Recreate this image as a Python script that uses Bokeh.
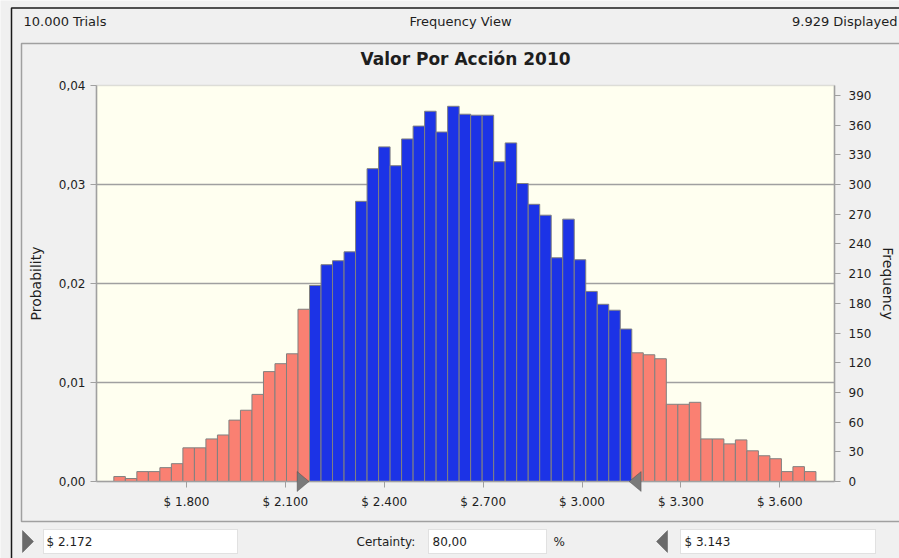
import math
import numpy as np
from bokeh.plotting import figure
from bokeh.models import (Range1d, LinearAxis, FixedTicker, CustomJSTickFormatter,
                          Label, PolyAnnotation, BoxAnnotation, ColumnDataSource)
from bokeh.embed import file_html
from bokeh.resources import INLINE

# ---------------- data ----------------
counts = [5, 3, 10, 10, 14, 18, 34, 34, 43, 47, 62, 72, 88, 111, 119, 129, 174,
          198, 219, 223, 232, 283, 316, 338, 319, 346, 359, 374, 353, 379, 371, 370,
          370, 323, 342, 301, 280, 269, 226, 265, 224, 192, 179, 173, 154,
          130, 128, 124, 78, 78, 80, 43, 43, 38, 42, 31, 26, 23, 10, 15, 10]
bin_lo, bin_hi = 1579.6, 3709.7
cert_lo, cert_hi = 2172, 3143
certainty_text = "80,00"
x_lim = (1527, 3766)
freq_lim = (0, 400)
x_ticks = [1800, 2100, 2400, 2700, 3000, 3300, 3600]
prob_ticks = [0.00, 0.01, 0.02, 0.03, 0.04]
freq_ticks = [0, 30, 60, 90, 120, 150, 180, 210, 240, 270, 300, 330, 360, 390]
title_text = "Valor Por Acción 2010"
trials_text = "10.000 Trials"
view_text = "Frequency View"
displayed_text = "9.929 Displayed"
left_axis_title = "Probability"
right_axis_title = "Frequency"

# ---------------- layout (pixels) ----------------
W, H = 899, 558
PX0, PX1, PY1, PY0 = 96, 834, 85, 481      # plot-area box on the canvas
BLUE = "#1C33E6"
SALMON = "#FA8072"
FONT = "DejaVu Sans"
TXT = "#1E1E1E"

sx = (PX1 - PX0) / (x_lim[1] - x_lim[0])
sy = (PY0 - PY1) / (freq_lim[1] - freq_lim[0])
x_start = x_lim[0] - PX0 / sx
x_end = x_lim[0] + (W - PX0) / sx
y_start = freq_lim[0] - (H - PY0) / sy
y_end = freq_lim[0] + PY0 / sy
pf = prob_ticks[-1] / freq_lim[1]


def X(px):
    return x_start + px / sx


def Y(py):
    return freq_lim[0] + (PY0 - py) / sy


def money(v):
    return "$ " + f"{int(v):,}".replace(",", ".")


edges = np.linspace(bin_lo, bin_hi, len(counts) + 1)
centers = (edges[:-1] + edges[1:]) / 2
colors = [BLUE if cert_lo <= c <= cert_hi else SALMON for c in centers]
src = ColumnDataSource(dict(left=edges[:-1], right=edges[1:], top=counts,
                            bottom=[0] * len(counts), color=colors))

p = figure(width=W, height=H, x_range=Range1d(x_start, x_end), y_range=Range1d(y_start, y_end),
           output_backend="svg", toolbar_location=None, title=None,
           x_axis_location=None, y_axis_location=None, min_border=0,
           background_fill_color="#F0F0F0", border_fill_color="#F0F0F0",
           outline_line_color=None)
p.grid.visible = False
p.extra_y_ranges = {"prob": Range1d(y_start * pf, y_end * pf)}

# window frame lines
p.line(x=[X(11), X(11), X(960)], y=[Y(600), Y(7.5), Y(7.5)], line_color="#1A1A1A", line_width=1.5)
p.line(x=[X(960), X(21), X(21), X(960)], y=[Y(43), Y(43), Y(521), Y(521)],
       line_color="#A0A0A0", line_width=1.5)

# plot area
p.add_layout(BoxAnnotation(left=x_lim[0], right=x_lim[1], bottom=freq_lim[0], top=freq_lim[1],
                           fill_color="#FFFFF0", fill_alpha=1, line_color="#A0A0A0",
                           line_width=1.5, level="underlay"))
grid_y = prob_ticks[1:-1]
p.segment(x0=[x_lim[0]] * len(grid_y), x1=[x_lim[1]] * len(grid_y), y0=grid_y, y1=grid_y,
          y_range_name="prob", line_color="#A0A0A0", line_width=1.5)

p.quad(left="left", right="right", top="top", bottom="bottom", source=src,
       fill_color="color", line_color="#808080", line_width=1)

yl = LinearAxis(y_range_name="prob", ticker=FixedTicker(ticks=prob_ticks),
                formatter=CustomJSTickFormatter(code="return tick.toFixed(2).replace('.', ',');"),
                axis_label=left_axis_title, fixed_location=x_lim[0],
                bounds=(prob_ticks[0], prob_ticks[-1]))
yr = LinearAxis(ticker=FixedTicker(ticks=freq_ticks), fixed_location=x_lim[1], bounds=freq_lim)
xb = LinearAxis(ticker=FixedTicker(ticks=x_ticks), fixed_location=freq_lim[0], bounds=x_lim,
                formatter=CustomJSTickFormatter(code="""
                    const s = Math.round(tick).toString();
                    return '$ ' + s.slice(0, s.length - 3) + '.' + s.slice(s.length - 3);"""))
for ax in (yl, yr, xb):
    ax.major_tick_out = 6
    ax.major_tick_in = 0
    ax.minor_tick_out = 0
    ax.minor_tick_in = 0
    ax.axis_line_color = "#A0A0A0"
    ax.axis_line_width = 1.5
    ax.major_tick_line_color = "#A0A0A0"
    ax.major_label_text_font = FONT
    ax.major_label_text_font_size = "12px"
    ax.major_label_text_color = TXT
    ax.axis_label_text_font = FONT
    ax.axis_label_text_font_size = "14px"
    ax.axis_label_text_font_style = "normal"
    ax.axis_label_text_color = TXT
yl.major_label_standoff = 5
yl.axis_label_standoff = 12
yr.major_label_standoff = 8
xb.major_label_standoff = 7
p.add_layout(yl, "left")
p.add_layout(yr, "right")
p.add_layout(xb, "below")

# certainty grabbers on the plot
tw = 12 / sx
th = 10 / sy
for tip, base in ((cert_lo, cert_lo - tw), (cert_hi, cert_hi + tw)):
    p.add_layout(PolyAnnotation(xs=[base, tip, base], ys=[th, 0, -th],
                                fill_color="#7A7A7A", fill_alpha=1, line_color="#2A2A2A",
                                line_width=1))


def label(px, py, text, size="13px", align="left", style="normal", angle=0.0):
    p.add_layout(Label(x=X(px), y=Y(py), text=text, text_font=FONT, text_font_size=size,
                       text_align=align, text_baseline="middle", text_font_style=style,
                       text_color=TXT, angle=angle))


def box(x0, x1):
    p.add_layout(BoxAnnotation(left=X(x0), right=X(x1), top=Y(529), bottom=Y(553),
                               fill_color="white", fill_alpha=1, line_color="#ABABAB",
                               line_width=1))


def grabber(x_base, x_tip):
    p.add_layout(PolyAnnotation(xs=[X(x_base), X(x_tip), X(x_base)], ys=[Y(530), Y(541), Y(552)],
                                fill_color="#6A6A6A", fill_alpha=1, line_color="#2A2A2A",
                                line_width=1))


label(887, 283, right_axis_title, size="14px", align="center", angle=-math.pi / 2)

label(23, 21, trials_text)
label(460, 21, view_text, align="center")
label(897, 21, displayed_text, align="right")
label(465, 58, title_text, size="17px", align="center", style="bold")

grabber(22, 33)
box(43, 237)
label(46, 541, money(cert_lo), size="12px")
label(356, 541, "Certainty:", size="12px")
box(428, 546)
label(432, 541, certainty_text, size="12px")
label(553, 541, "%", size="12px")
grabber(667, 656)
box(680, 875)
label(684, 541, money(cert_hi), size="12px")

open("out.html", "w").write(file_html(p, INLINE))
